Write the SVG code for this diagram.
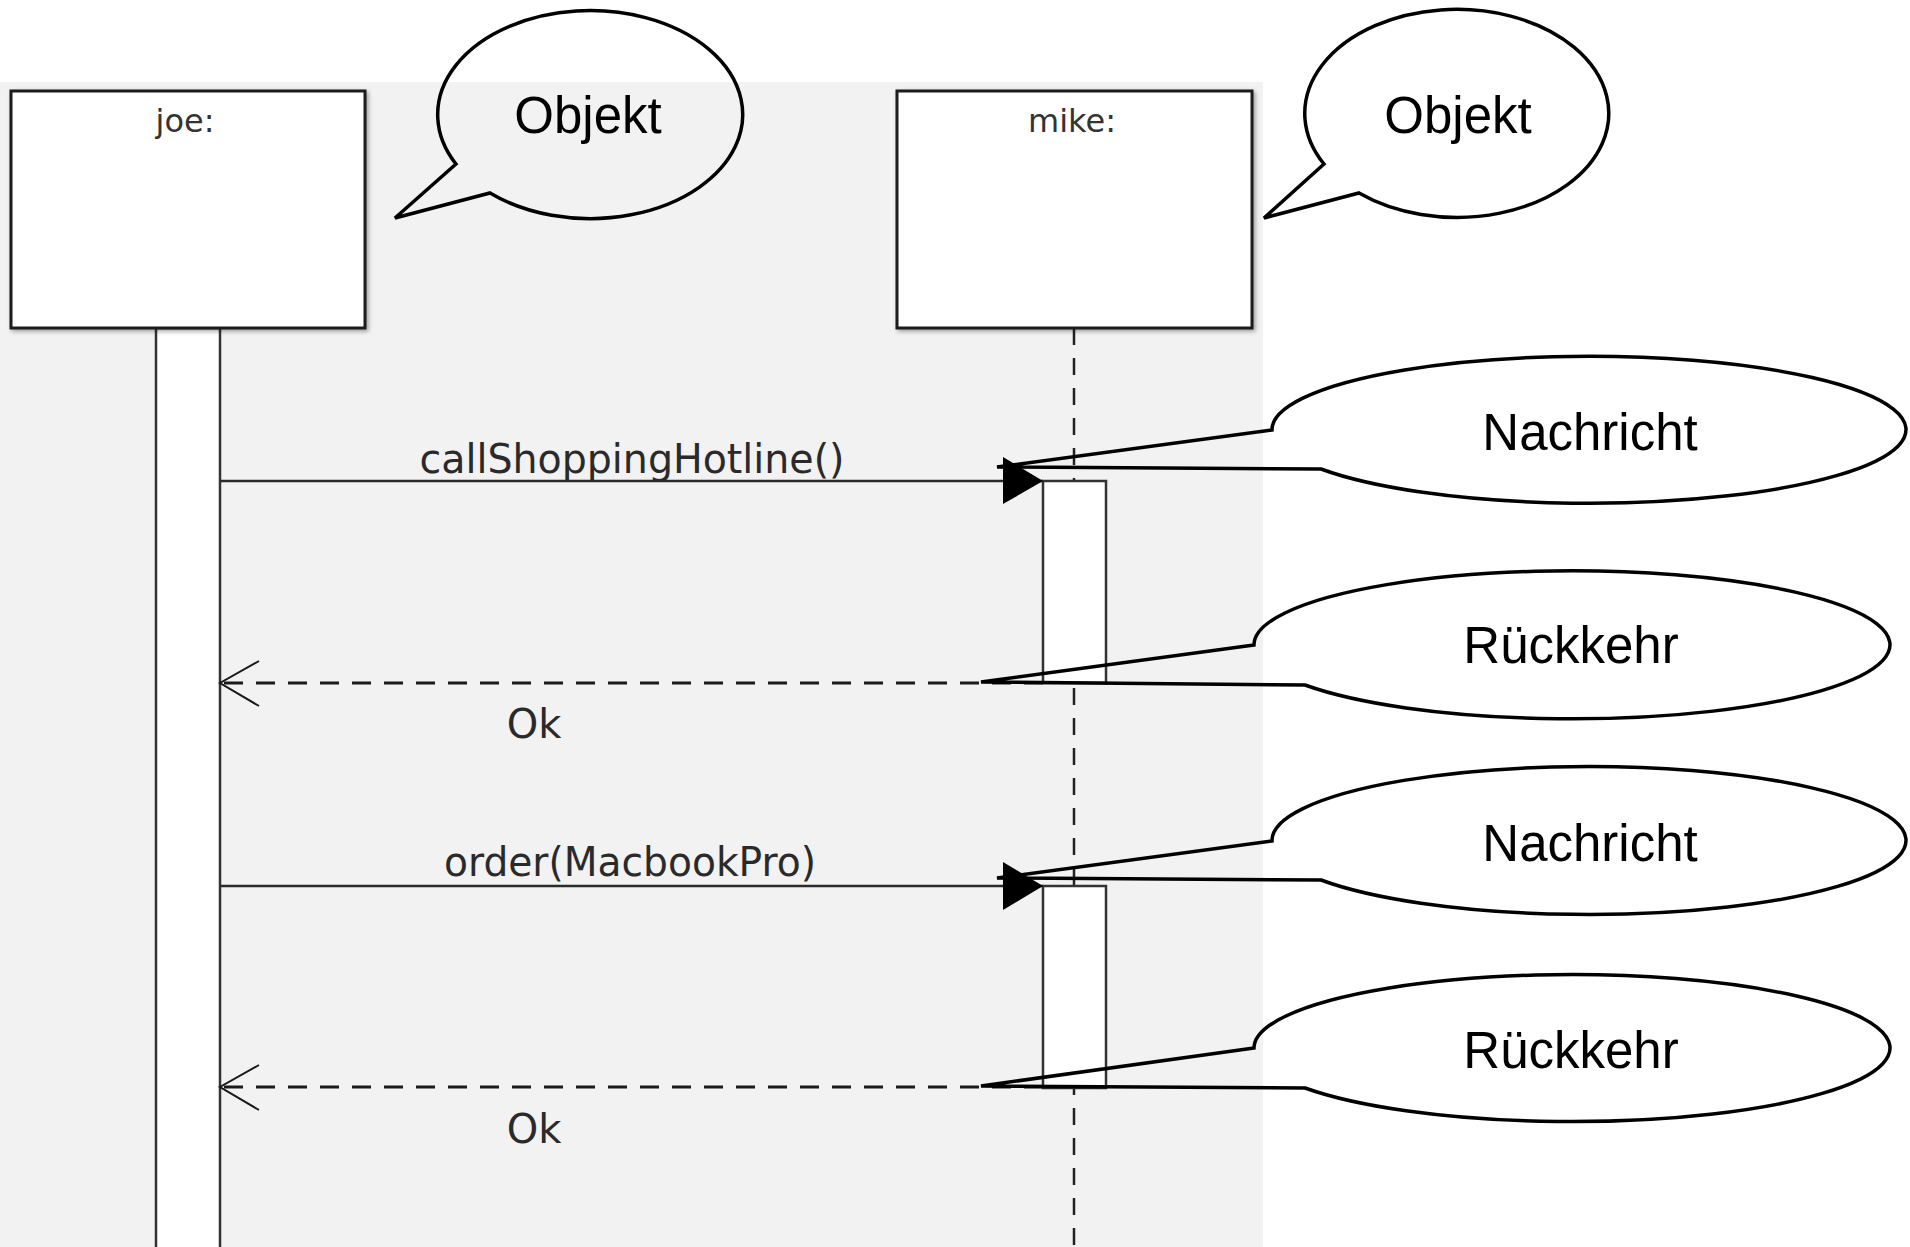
<svg xmlns="http://www.w3.org/2000/svg" width="1910" height="1247" viewBox="0 0 1910 1247">
<style>
.obj{fill:#fff;stroke:#1a1a1a;stroke-width:3}
.hdr{font-family:"DejaVu Sans",sans-serif;font-size:32px;fill:#333;text-anchor:middle}
.lbl{font-family:"DejaVu Sans",sans-serif;font-size:40px;fill:#2a2a2a;text-anchor:middle}
.act{fill:#fff;stroke:#333;stroke-width:2.5}
.msg{stroke:#2a2a2a;stroke-width:2.5;fill:none}
.ret{stroke:#1a1a1a;stroke-width:3;fill:none;stroke-dasharray:19 13}
.open{stroke:#1a1a1a;stroke-width:2;fill:none}
.life{stroke:#222;stroke-width:2.5;stroke-dasharray:17 13}
.bub{fill:none;stroke:#000;stroke-width:3.5;stroke-linejoin:miter}
.btx{font-family:"Liberation Sans",Arial,sans-serif;font-size:51px;fill:#000;text-anchor:middle}
</style>
<defs>
<filter id="sh" x="-5%" y="-5%" width="115%" height="115%">
<feDropShadow dx="2" dy="2" stdDeviation="2" flood-color="#000" flood-opacity="0.35"/>
</filter>
</defs>
<rect x="0" y="0" width="1910" height="1247" fill="#fff"/>
<rect x="0" y="82" width="1263" height="1165" fill="#f2f2f2"/>

<g id="joe">
<rect x="156" y="328" width="64" height="930" class="act"/>
<rect x="11" y="91" width="354" height="237" class="obj" filter="url(#sh)"/>
<text x="185" y="132" class="hdr">joe:</text>
</g>

<g id="mike">
<line x1="1074" y1="328" x2="1074" y2="1247" class="life"/>
<rect x="897" y="91" width="355" height="237" class="obj" filter="url(#sh)"/>
<text x="1072" y="132" class="hdr">mike:</text>
<rect id="mike-act1" x="1043" y="481" width="63" height="202" class="act"/>
<rect id="mike-act2" x="1043" y="886" width="63" height="202" class="act"/>
</g>

<g id="connectors">
<line x1="220" y1="481" x2="1043" y2="481" class="msg"/>
<polygon points="1003,457 1043,481 1003,504" fill="#000"/>
<text x="632" y="473" class="lbl" textLength="425" lengthAdjust="spacingAndGlyphs">callShoppingHotline()</text>

<line x1="1043" y1="683" x2="222" y2="683" class="ret"/>
<polyline points="259,661 220,683 259,706" class="open"/>
<text x="534" y="738" class="lbl">Ok</text>

<line x1="220" y1="886" x2="1043" y2="886" class="msg"/>
<polygon points="1003,862 1043,886 1003,910" fill="#000"/>
<text x="630" y="876" class="lbl" textLength="372" lengthAdjust="spacingAndGlyphs">order(MacbookPro)</text>

<line x1="1043" y1="1087" x2="222" y2="1087" class="ret"/>
<polyline points="259,1065 220,1087 259,1110" class="open"/>
<text x="534" y="1143" class="lbl">Ok</text>
</g>

<g id="callout-objekt-1">
<path d="M456,164 L395,218 L490,193 A152.5 104 0 1 0 456,164 Z" class="bub"/>
<text x="588" y="133" class="btx">Objekt</text>
</g>

<g id="callout-objekt-2">
<path d="M1324,164 L1264,218 L1359,193 A152 104 0 1 0 1324,164 Z" class="bub"/>
<text x="1458" y="133" class="btx">Objekt</text>
</g>

<g id="callout-nachricht-1">
<path d="M1272,430 L997,467 L1321,469 A317 73.5 0 1 0 1272,430 Z" class="bub"/>
<text x="1590" y="450" class="btx">Nachricht</text>
</g>

<g id="callout-rueckkehr-1">
<path d="M1254,645 L981,682 L1305,685 A318 74 0 1 0 1254,645 Z" class="bub"/>
<text x="1571" y="663" class="btx">Rückkehr</text>
</g>

<g id="callout-nachricht-2">
<path d="M1272,841 L997,878 L1321,880 A317 74 0 1 0 1272,841 Z" class="bub"/>
<text x="1590" y="861" class="btx">Nachricht</text>
</g>

<g id="callout-rueckkehr-2">
<path d="M1254,1048 L981,1086 L1305,1088 A318 73.5 0 1 0 1254,1048 Z" class="bub"/>
<text x="1571" y="1068" class="btx">Rückkehr</text>
</g>
</svg>
